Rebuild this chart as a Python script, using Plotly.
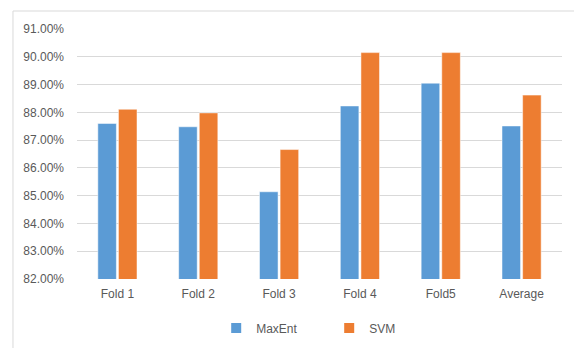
import plotly.graph_objects as go

categories = ["Fold 1", "Fold 2", "Fold 3", "Fold 4", "Fold5", "Average"]
maxent = [87.60, 87.48, 85.14, 88.23, 89.05, 87.51]
svm = [88.11, 87.98, 86.66, 90.15, 90.15, 88.62]
y_ticks = [82, 83, 84, 85, 86, 87, 88, 89, 90, 91]
y_tick_labels = [f"{v:.2f}%" for v in y_ticks]

fig = go.Figure()
fig.add_trace(go.Bar(name="MaxEnt", x=categories, y=maxent,
                     marker=dict(color="#5B9BD5", line=dict(color="#FFFFFF", width=0.5))))
fig.add_trace(go.Bar(name="SVM", x=categories, y=svm,
                     marker=dict(color="#ED7D31", line=dict(color="#FFFFFF", width=0.5))))

font = dict(family="Liberation Sans, Arial, sans-serif", size=12, color="#595959")
fig.update_layout(
    width=574, height=348,
    margin=dict(l=77, r=12, t=29, b=69, autoexpand=False),
    paper_bgcolor="white", plot_bgcolor="white",
    barmode="group", bargap=0.49, bargroupgap=0.1,
    font=font,
    showlegend=True,
    legend=dict(orientation="h", x=0.52, xanchor="center", y=-0.196, yanchor="middle",
                entrywidth=68, entrywidthmode="pixels", font=font, itemsizing="constant"),
    xaxis=dict(showgrid=False, showline=False, ticks="", tickfont=font, ticklabelstandoff=6),
    yaxis=dict(range=[82, 91], tickvals=y_ticks, ticktext=y_tick_labels,
               showgrid=True, gridcolor="#D9D9D9", gridwidth=1, zeroline=False,
               showline=False, ticks="", tickfont=font, ticklabelstandoff=12),
    shapes=[dict(type="rect", xref="paper", yref="paper",
                 x0=-0.132, y0=-0.29, x1=1.04, y1=1.072,
                 line=dict(color="#D9D9D9", width=1), fillcolor="rgba(0,0,0,0)", layer="below")],
)
fig.write_html("out.html")
